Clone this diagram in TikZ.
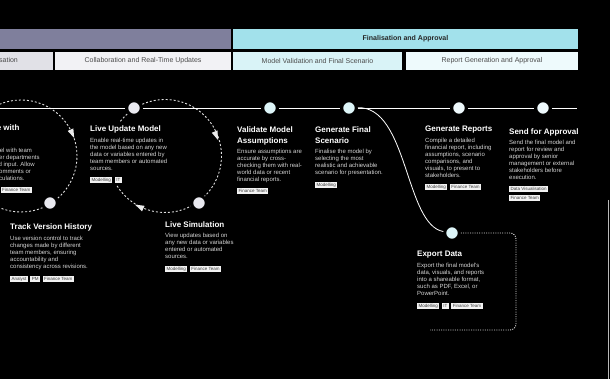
\documentclass[tikz,border=0pt]{standalone}
\usepackage{fontspec}
\setmainfont{Liberation Sans}
\usetikzlibrary{calc}
\definecolor{hpurple}{HTML}{7F7F9C}
\definecolor{hcyan}{HTML}{A2E1EB}
\definecolor{rowgrey}{HTML}{E1E1E7}
\definecolor{rowwhite}{HTML}{F2F2F5}
\definecolor{rowcyan}{HTML}{D9F3F7}
\definecolor{rowpale}{HTML}{EEFAFC}
\definecolor{dotwhite}{HTML}{E9E9F0}
\definecolor{dotcyan}{HTML}{DDF5F8}
\definecolor{dotpale}{HTML}{EEF9FC}
\definecolor{bodygrey}{HTML}{D4D4D4}
\definecolor{tagtext}{HTML}{3A3A3A}
\newcommand{\lparrowtip}[2]{\fill[arrowtri] ($(#1)+(#2:5.5pt)$) -- ($(#1)+(#2+140:4.8pt)$) -- ($(#1)+(#2-140:4.8pt)$) -- cycle;}
\begin{document}
\begin{tikzpicture}[x=1pt,y=-1pt,
  bar/.style={minimum height=20pt, inner sep=0, text=black!85},
  rowbox/.style={minimum height=18pt, inner sep=0, text=black!70, font=\fontsize{7}{8}\selectfont},
  tl/.style={draw=white, line width=0.9pt},
  loopline/.style={draw=white!88!black, line width=0.9pt, dash pattern=on 2pt off 2pt},
  dotpath/.style={draw=white!85!black, line width=0.9pt, dash pattern=on 1pt off 1.3pt},
  dot/.style={circle, minimum size=14.6pt, inner sep=0, draw=black, line width=3pt, fill=#1},
  ttl/.style={anchor=north west, inner sep=0, align=left, text=white, font=\bfseries\fontsize{8}{11}\selectfont},
  bodytxt/.style={anchor=north west, inner sep=0, align=left, text=bodygrey, font=\fontsize{6}{7}\selectfont},
  tagbox/.style={anchor=west, fill=white!95!black, text=tagtext, font=\fontsize{4.5}{5}\selectfont, inner xsep=1.5pt, inner ysep=0.8pt, text height=3.4pt, text depth=1pt},
  arrowtri/.style={fill=white!92!black},
]
\useasboundingbox (0,0) rectangle (610,379);
\fill[black] (0,0) rectangle (610,379);
\clip (0,0) rectangle (610,379);

% phase headers
\node[bar, fill=hpurple, minimum width=351pt] (phaseA) at (55.5,39) {};
\node[bar, fill=hcyan, minimum width=345pt, font=\bfseries\fontsize{7}{8}\selectfont] (phaseB) at (405.5,39) {Finalisation and Approval};
\node[rowbox, fill=rowgrey, minimum width=173pt] (rowA) at (-33.5,61) {Data Collection and Organisation};
\node[rowbox, fill=rowwhite, minimum width=176pt] (rowB) at (143,61) {Collaboration and Real-Time Updates};
\node[rowbox, fill=rowcyan, minimum width=169pt] (rowC) at (317.5,61) {Model Validation and Final Scenario};
\node[rowbox, fill=rowpale, minimum width=172pt] (rowD) at (492,61) {Report Generation and Approval};

% loops
\coordinate (lc1) at (21,156);
\coordinate (lc2) at (165,156);
\draw[loopline] (lc1) circle[radius=56pt];
\draw[loopline] ($(lc2)+(212:56.5pt)$) arc[start angle=212, end angle=503, radius=56.5pt];
\lparrowtip{72,133}{-66}
\lparrowtip{216,135}{-68}
\lparrowtip{140,207}{154}

% step dots
\node[dot=dotwhite] (lum) at (134,108) {};
\node[dot=dotwhite] (tvh) at (50,203) {};
\node[dot=dotwhite] (ls) at (199,203) {};
\node[dot=dotcyan] (vma) at (270,108) {};
\node[dot=dotcyan] (gfs) at (349,108) {};
\node[dot=dotcyan] (ed) at (452,233) {};
\node[dot=dotpale] (gr) at (459,108) {};
\node[dot=dotpale] (sfa) at (543,108) {};

% connectors
\coordinate (tlstart) at (0,108);
\coordinate (tlend) at (577,108);
\draw[tl] (tlstart) -- (lum) -- (vma) -- (gfs) -- (gr) -- (sfa) -- (tlend);
\draw[tl, line width=0.8pt] (gfs) .. controls (408,106) and (405,225) .. (ed);
\draw[dotpath, rounded corners=6pt] (ed) -- (516,233) -- (516,330) -- (430,330);

% card: collaborate (cut off)
\node[ttl] (cwt) at (-43,124.5) {Collaborate with\\Team};
\node[bodytxt] (cwb) at (-43,148.2) {Share your model with team\\members or other departments\\for feedback and input. Allow\\users to leave comments or\\feedback on calculations.};
\node[tagbox] (cwtag) at (0.5,190) {Finance Team};

% card: live update model
\node[ttl] (lumt) at (90,125.5) {Live Update Model};
\node[bodytxt] (lumb) at (90,138.2) {Enable real-time updates in\\the model based on any new\\data or variables entered by\\team members or automated\\sources.};
\node[tagbox] (lumtA) at (90,180) {Modelling};
\node[tagbox] (lumtB) at ([xshift=2pt]lumtA.east) {IT};

% card: track version history
\node[ttl] (tvht) at (10,223.5) {Track Version History};
\node[bodytxt] (tvhb) at (10,236.2) {Use version control to track\\changes made by different\\team members, ensuring\\accountability and\\consistency across revisions.};
\node[tagbox] (tvhtA) at (10,279) {Analyst};
\node[tagbox] (tvhtB) at ([xshift=2pt]tvhtA.east) {PM};
\node[tagbox] (tvhtC) at ([xshift=2pt]tvhtB.east) {Finance Team};

% card: live simulation
\node[ttl] (lst) at (165,221.5) {Live Simulation};
\node[bodytxt] (lsb) at (165,233.2) {View updates based on\\any new data or variables\\entered or automated\\sources.};
\node[tagbox] (lstA) at (165,269) {Modelling};
\node[tagbox] (lstB) at ([xshift=2pt]lstA.east) {Finance Team};

% card: validate model assumptions
\node[ttl] (vmat) at (237,126.5) {Validate Model\\Assumptions};
\node[bodytxt] (vmab) at (237,149.2) {Ensure assumptions are\\accurate by cross-\\checking them with real-\\world data or recent\\financial reports.};
\node[tagbox] (vmatA) at (237,191) {Finance Team};

% card: generate final scenario
\node[ttl] (gfst) at (315,126.5) {Generate Final\\Scenario};
\node[bodytxt] (gfsb) at (315,149.2) {Finalise the model by\\selecting the most\\realistic and achievable\\scenario for presentation.};
\node[tagbox] (gfstA) at (315,185) {Modelling};

% card: generate reports
\node[ttl] (grt) at (425,125.5) {Generate Reports};
\node[bodytxt] (grb) at (425,138.2) {Compile a detailed\\financial report, including\\assumptions, scenario\\comparisons, and\\visuals, to present to\\stakeholders.};
\node[tagbox] (grtA) at (425,187) {Modelling};
\node[tagbox] (grtB) at ([xshift=2pt]grtA.east) {Finance Team};

% card: send for approval
\node[ttl] (sfat) at (509,128.5) {Send for Approval};
\node[bodytxt] (sfab) at (509,140.2) {Send the final model and\\report for review and\\approval by senior\\management or external\\stakeholders before\\execution.};
\node[tagbox] (sfatA) at (509,189) {Data Visualisation};
\node[tagbox] (sfatB) at (509,198) {Finance Team};

% card: export data
\node[ttl] (edt) at (417,250.5) {Export Data};
\node[bodytxt] (edb) at (417,263.2) {Export the final model's\\data, visuals, and reports\\into a shareable format,\\such as PDF, Excel, or\\PowerPoint.};
\node[tagbox] (edtA) at (417,306) {Modelling};
\node[tagbox] (edtB) at ([xshift=2pt]edtA.east) {IT};
\node[tagbox] (edtC) at ([xshift=2pt]edtB.east) {Finance Team};

% right edge line
\draw[gray!55, line width=0.8pt] (608,200) -- (608,379);
\end{tikzpicture}
\end{document}
